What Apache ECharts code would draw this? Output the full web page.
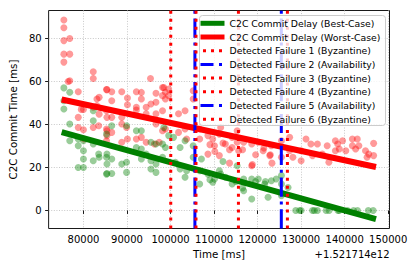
<!DOCTYPE html>
<html>
<head>
<meta charset="utf-8">
<script src="https://cdn.jsdelivr.net/npm/echarts@6/dist/echarts.min.js"></script>
<style>
html,body{margin:0;padding:0;background:#fff;}
#chart{width:415px;height:268px;}
</style>
</head>
<body>
<div id="chart"></div>
<script>
// ---- data (x in ms, offset +1.521714e12) ----
const xTicks = [80000, 90000, 100000, 110000, 120000, 130000, 140000, 150000];
const yTicks = [0, 20, 40, 60, 80];
const offsetText = '+1.521714e12';

const worstCasePoints = [
  [75500,88.6],[75500,85],[75500,79],[76850,80],[75500,72.7],[76850,72.7],[75500,69],[76850,60.3],[76500,60],
  [82250,64.5],[82250,61.4],[78800,55.2],[85300,56.2],[79500,47],[80000,47],[78800,43.3],[78800,38.6],
  [80000,37.5],[82250,48],[83100,51.8],[83600,52.6],[83100,48.7],[83600,44.8],[83500,39.4],[82250,38.6],
  [80100,33.2],[85300,46.4],[85300,37.9],[85300,32.4],
  [85400,56.2],[86500,55.2],[88800,55.2],[90100,52.3],[90100,49.2],[92150,55.2],[93300,54.9],[93300,51.8],
  [95400,61.4],[96660,54.5],[96660,50.3],[98160,57.2],[98160,53.4],[86500,51],[85400,43.3],[86500,43.3],
  [88800,43.3],[92150,48],[92150,46.7],[94400,48],[94400,45],[95500,49.5],[96660,45],[96660,40.2],
  [98160,46.4],[85400,37.1],[85400,34.8],[86500,36.3],[88800,40.2],[89900,38.6],[90100,33.2],[88800,31.7],
  [92150,33.2],[93300,34],[94400,31.7],[96300,30.9],[97400,31.7],[98160,37.1],
  [98460,57.2],[98830,55],[98830,51.8],[99580,56.5],[99580,53.4],[105200,55.7],[105200,51.8],[101840,45],
  [103340,46.4],[98830,37.9],[101840,36.3],[103340,37.9],[103700,33.2],[106700,37.9],[106700,33.2],
  [108590,34.8],[109700,33.2],[110100,30.1],[111220,35.5],[108590,26.2],[111220,25.5],
  [111520,38.6],[112600,30.9],[114150,34],[114150,29.3],[115300,37.1],[115300,31.7],[115650,27.8],
  [116800,31.7],[118650,30.9],[118650,20.8],[120150,31.7],[121280,27.8],[122800,25.5],[123160,30.1],
  [109050,30.6],[110180,27.4],[112050,31.3],[113550,28.2],[113550,22],[116550,28.2],[118800,21.3],
  [119550,25.9],[121440,29],[122920,25.9],[123300,22],
  [125480,32.4],[125480,24.7],[127360,34],[127360,27.8],[128110,24.7],[130000,27.8],[130000,23.1],
  [131120,33.2],[132240,30.9],[132620,25.5],[133740,30.9],[134870,26.2],[135990,30.1],[136370,22.4],
  [137870,27.8],[137870,32.4],
  [138400,30.9],[138770,28.6],[139520,32.4],[140270,27.8],[141770,33.2],[142900,33.2],[141770,30.1],
  [143270,30.1],[142520,28.6],[144780,27.8],[145530,26.2],[145150,24.7],[146650,31.2],[146650,25.5]
];

const bestCasePoints = [
  [75500,57],[75500,51],[75500,47.2],[76850,55],[76850,40.2],[76850,32.4],[78800,33.2],[78800,30.1],
  [80000,32.4],[80000,27.8],[80000,23.9],[78800,20],[80000,20],[82250,46.4],[82250,41.7],[82250,30.9],
  [82250,23.1],[83500,26.2],[83600,24.7],[85300,24.7],[85300,16.9],[85300,35.5],
  [86500,39.4],[89900,39.4],[92150,37.1],[93300,37.1],[95500,31.7],[96660,30.9],[98160,30.9],[85400,26.2],
  [86500,23.9],[85400,21.6],[85400,17.2],[86500,17.2],[88800,21.6],[89900,22.4],[89900,17.7],[92150,29.3],
  [93300,28.6],[93300,23.9],[94400,26.2],[95500,23.1],[95500,19.3],[96660,21.6],[96660,17.7],[98160,24.7],
  [98460,38.6],[99580,34.8],[98830,29.3],[100700,34],[102200,29.3],[103340,32.4],[105200,30.1],[105200,24.7],
  [101100,22.4],[102200,19.3],[103700,18.5],[103340,15.4],[107100,23.9],[106700,18.5],[106700,12.3],
  [108590,16.9],[109700,13.1],[110100,14.6],[111220,18.5],
  [111520,16.9],[112650,15.4],[114150,12.3],[115300,20.8],[116800,14.6],[116800,9.2],[118650,14.6],
  [118650,5.3],[120150,14.6],[121650,12.3],[122400,6.1],[123160,13.8],[124280,14.6],[109050,14.3],
  [112050,22.8],[115040,13.5],[116550,10.4],[119550,13.5],[121800,13.5],
  [125480,16.2],[125480,12.3],[125480,6.9],[127000,10.7],
  [128760,0],[129660,0],[130000,0],[132620,0],[133040,0],[133740,0],[135740,0],[136420,0],[138450,0],
  [138770,0],[140650,0],[142050,0],[142950,0],[145430,0],[146550,0]
];

const fitX = [75000, 147200];
const bestFitY = [36.4, -4.0];
const worstFitY = [51.6, 20.2];

const failureX = [100050, 105600, 105850, 115600, 125450, 126850];
const failureKinds = ['Byzantine', 'Availability', 'Byzantine', 'Byzantine', 'Availability', 'Byzantine'];

// ---- chart ----
const FONT = 'DejaVu Sans';
const X_MIN = 72000, X_MAX = 150300, Y_MIN = -8.4, Y_MAX = 93;

const ICON_SOLID = 'path://M0 0M24 10M0 2.5L24 2.5L24 7.5L0 7.5Z';
const ICON_DOT = 'path://M0 0M24 10M2.5 3.5L5.5 3.5L5.5 6.5L2.5 6.5Z M10.5 3.5L13.5 3.5L13.5 6.5L10.5 6.5Z M18.5 3.5L21.5 3.5L21.5 6.5L18.5 6.5Z';
const ICON_DASHDOT = 'path://M0 0M24 10M0 3.5L13 3.5L13 6.5L0 6.5Z M18.5 3.5L21.5 3.5L21.5 6.5L18.5 6.5Z';

const series = [
  { name: 'worstScatter', type: 'scatter', data: worstCasePoints, symbolSize: 7,
    itemStyle: { color: '#ff0000', opacity: 0.4 }, z: 1, silent: true },
  { name: 'bestScatter', type: 'scatter', data: bestCasePoints, symbolSize: 7,
    itemStyle: { color: '#008000', opacity: 0.4 }, z: 1, silent: true },
  { name: 'C2C Commit Delay (Best-Case)', type: 'line', symbol: 'none', z: 2,
    data: fitX.map((x, i) => [x, bestFitY[i]]),
    lineStyle: { color: '#008000', width: 6, cap: 'butt' }, itemStyle: { color: '#008000' } },
  { name: 'C2C Commit Delay (Worst-Case)', type: 'line', symbol: 'none', z: 2,
    data: fitX.map((x, i) => [x, worstFitY[i]]),
    lineStyle: { color: '#ff0000', width: 6, cap: 'butt' }, itemStyle: { color: '#ff0000' } }
];
const legendData = [
  { name: 'C2C Commit Delay (Best-Case)', icon: ICON_SOLID },
  { name: 'C2C Commit Delay (Worst-Case)', icon: ICON_SOLID }
];
failureX.forEach((fx, i) => {
  const avail = failureKinds[i] === 'Availability';
  const name = 'Detected Failure ' + (i + 1) + ' (' + failureKinds[i] + ')';
  const color = avail ? '#0000ff' : '#ff0000';
  series.push({
    name, type: 'line', symbol: 'none', z: 3,
    data: [[fx, Y_MIN], [fx, Y_MAX]],
    lineStyle: { color, width: 3, cap: 'butt', type: avail ? [19.2, 4.8, 3, 4.8] : [3, 4.95] },
    itemStyle: { color }
  });
  legendData.push({ name, icon: avail ? ICON_DASHDOT : ICON_DOT });
});

const chart = echarts.init(document.getElementById('chart'), null, { renderer: 'svg' });
chart.setOption({
  animation: false,
  backgroundColor: '#ffffff',
  textStyle: { fontFamily: FONT },
  grid: { left: 41.5, right: 25.5, top: 10.5, bottom: 39.5, show: true, borderColor: '#1a1a1a', borderWidth: 1,
          backgroundColor: 'transparent', containLabel: false },
  xAxis: {
    type: 'value', min: X_MIN, max: X_MAX, splitNumber: 8,
    name: 'Time [ms]', nameLocation: 'middle', nameGap: 19,
    nameTextStyle: { fontSize: 10.3, color: '#000', fontFamily: FONT },
    axisLine: { show: false },
    axisTick: { show: true, inside: false, length: 3.5, lineStyle: { color: '#1a1a1a', width: 1 }, customValues: xTicks },
    axisLabel: { fontSize: 10, color: '#000', fontFamily: FONT, margin: 5.5, customValues: xTicks,
                 formatter: v => String(v) },
    splitLine: { show: true, lineStyle: { color: '#c8c8c8', width: 1, type: [1, 1.6] } }
  },
  yAxis: {
    type: 'value', min: Y_MIN, max: Y_MAX, splitNumber: 5,
    name: 'C2C Commit Time [ms]', nameLocation: 'middle', nameGap: 23.5, nameRotate: 90,
    nameTextStyle: { fontSize: 10.3, color: '#000', fontFamily: FONT },
    axisLine: { show: false },
    axisTick: { show: true, inside: false, length: 3.5, lineStyle: { color: '#1a1a1a', width: 1 }, customValues: yTicks },
    axisLabel: { fontSize: 10, color: '#000', fontFamily: FONT, margin: 7, customValues: yTicks,
                 formatter: v => String(v) },
    splitLine: { show: true, lineStyle: { color: '#c8c8c8', width: 1, type: [1, 1.6] } }
  },
  legend: {
    show: true, orient: 'vertical', left: 199, top: 15, z: 120,
    itemWidth: 24, itemHeight: 10, itemGap: 1.7,
    padding: [2.3, 5, 2.3, 1.5],
    backgroundColor: 'transparent', borderWidth: 0,
    symbolKeepAspect: false, selectedMode: false,
    itemStyle: { borderWidth: 0 },
    textStyle: { fontSize: 9.3, color: '#000', fontFamily: FONT, lineHeight: 12 },
    data: legendData
  },
  graphic: [{
    type: 'rect', z: 100, silent: true,
    shape: { x: 199.5, y: 15.5, width: 186, height: 110, r: 3 },
    style: { fill: '#ffffff', fillOpacity: 0.8, stroke: '#cccccc', lineWidth: 1 }
  }, {
    type: 'text', right: 25.5, top: 249,
    style: { text: offsetText, fontSize: 10, fontFamily: FONT, fill: '#000' }
  }],
  series
});
</script>
</body>
</html>
